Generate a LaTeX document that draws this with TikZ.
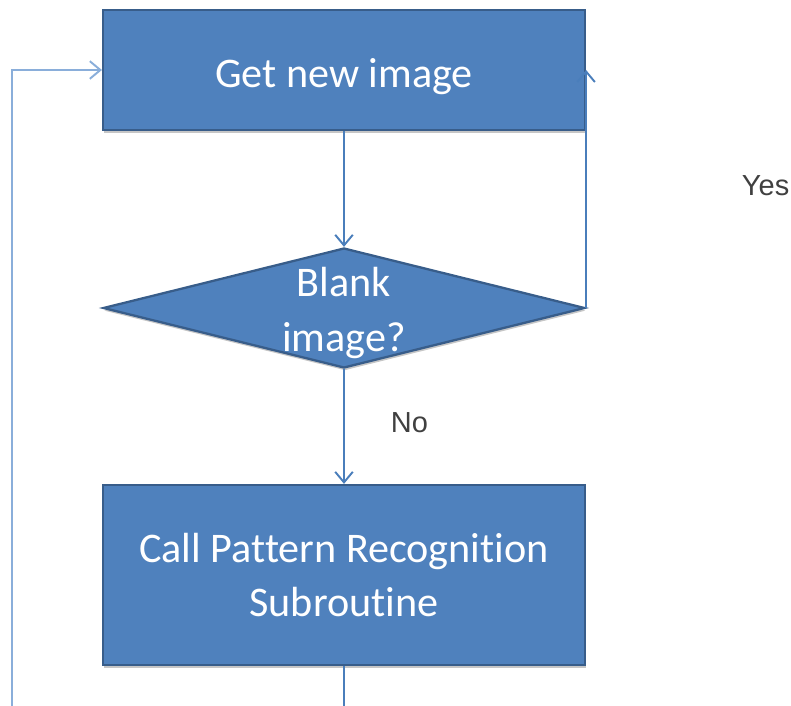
\documentclass[tikz,border=0pt]{standalone}
\usepackage{fontspec}
\setmainfont[Ligatures=NoCommon]{Carlito}
\newfontfamily\yesnofont{Liberation Sans}
\usetikzlibrary{shapes.geometric,arrows.meta,shadows}
\definecolor{boxfill}{HTML}{4F81BD}
\definecolor{boxline}{HTML}{385D8A}
\definecolor{flowline}{HTML}{4A7EBB}
\definecolor{loopline}{HTML}{8AAEDA}
\newcommand{\sinktext}[1]{\raisebox{-3.5pt}[\height][\depth]{#1}}
\newcommand{\flattext}[1]{\raisebox{-9pt}[0pt][0pt]{\begin{tabular}{@{}c@{}}#1\end{tabular}}}
\tikzset{
  stepbox/.style={draw=boxline,line width=1.3pt,fill=boxfill,text=white,
    minimum width=9.64cm,inner sep=0pt,align=center,
    font=\fontsize{24}{31}\selectfont,
    drop shadow={shadow xshift=0.5pt,shadow yshift=-1.5pt,opacity=0.45}},
  askbox/.style={stepbox,shape=diamond,shape aspect=4,minimum height=2.4cm},
  answer/.style={anchor=west,inner sep=0pt,text=black!75,font=\yesnofont\fontsize{16.5}{20}\selectfont},
}
\begin{document}
\begin{tikzpicture}[x=0.02cm,y=-0.02cm,>={Straight Barb[length=6pt,width=10pt]},
    flowline,line width=1.1pt]
  \useasboundingbox (0,0) rectangle (791,706);
  \node[stepbox,minimum height=2.4cm] (get) at (344,70) {\sinktext{Get new image}};
  \node[askbox] (blank) at (344,308) {\flattext{Blank\\image?}};
  \node[stepbox,minimum height=3.6cm] (call) at (344,575) {Call Pattern Recognition\\Subroutine};
  \coordinate (callout) at (344,706);
  \coordinate (loopin) at (12,706);
  \draw[->] (get.south) -- (blank.north);
  \draw[->] (blank.south) -- (call.north);
  \draw[->] (blank.east) -- (get.east);
  \draw (call.south) -- (callout);
  \draw[->,loopline] (loopin) |- (get.west);
  \node[answer] (no) at (390,423) {No};
  \node[answer] (yes) at (741,186) {Yes};
\end{tikzpicture}
\end{document}
